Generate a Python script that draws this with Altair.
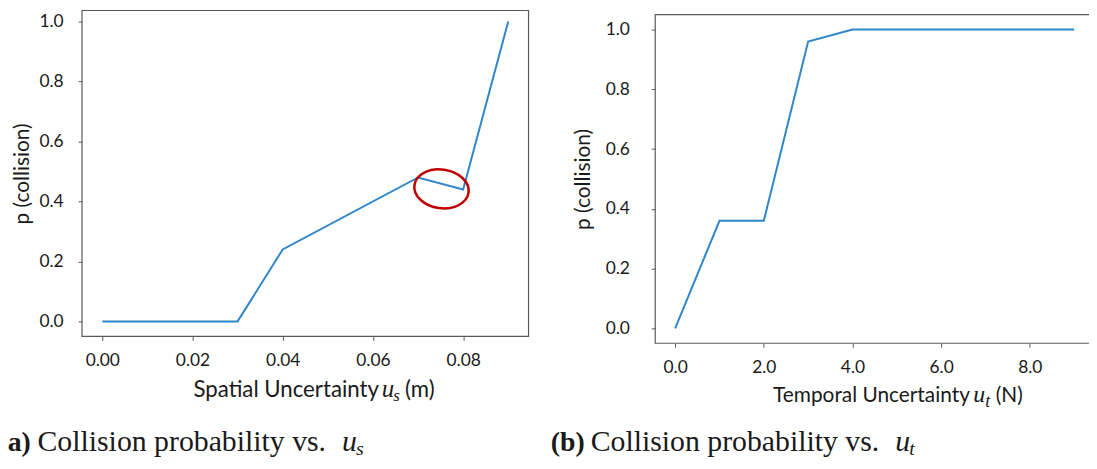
import altair as alt
import pandas as pd

# ---------------- data ----------------
# (a) collision probability vs spatial uncertainty
spatial_u = [0.00, 0.03, 0.04, 0.07, 0.08, 0.09]
spatial_p = [0.00, 0.00, 0.24, 0.48, 0.44, 1.00]
# (b) collision probability vs temporal uncertainty
temporal_u = [0, 1, 2, 3, 4, 5, 6, 7, 8, 9]
temporal_p = [0.00, 0.36, 0.36, 0.96, 1.00, 1.00, 1.00, 1.00, 1.00, 1.00]

spatial_ticks = [0.00, 0.02, 0.04, 0.06, 0.08]
temporal_ticks = [0, 2, 4, 6, 8]
p_ticks = [0.0, 0.2, 0.4, 0.6, 0.8, 1.0]

# highlighted region (red ellipse) centre, in data units of panel (a)
highlight_u = [0.0752]
highlight_p = [0.442]

# ---------------- layout (view pixels) ----------------
W, H = 1089, 461
FONT = "Lato"
SERIF = "Liberation Serif"
INK = "#1a1a1a"
FRAME = "#5a5a5a"
BLUE = "#2f86c8"
RED = "#c00000"

a_xdom, a_xrng = [-0.0045, 0.0945], [74.55, 524.4]
a_ydom, a_yrng = [-0.05, 1.037], [329.1, 0.8]
b_xdom, b_xrng = [-0.45, 9.45], [652.0, 1094.1]
b_ydom, b_yrng = [-0.05, 1.05], [336.05, 4.95]


def axis(orient, values, fmt, offset, label_padding, title=None, title_padding=0):
    kw = dict(orient=orient, values=values, format=fmt, offset=offset,
              labelPadding=label_padding, tickSize=4, tickColor=FRAME, tickWidth=1,
              domain=False, grid=False, labelFont=FONT, labelFontSize=17.5,
              labelColor=INK, labelFlush=False, labelOverlap=False)
    if title:
        kw.update(title=title, titleFont=FONT, titleFontSize=21, titleFontWeight="normal",
                  titleColor=INK, titlePadding=title_padding)
    else:
        kw["title"] = None
    return alt.Axis(**kw)


def txt(s, x, y, size, font=FONT, align="left", style="normal", weight="normal"):
    return alt.Chart(pd.DataFrame({"t": [s]})).mark_text(
        align=align, baseline="alphabetic", font=font, fontSize=size,
        fontStyle=style, fontWeight=weight, color=INK
    ).encode(text="t:N", x=alt.value(x), y=alt.value(y))


def frame(xr, yr):
    return alt.Chart(pd.DataFrame({"f": [0]})).mark_rect(
        fillOpacity=0, stroke=FRAME, strokeWidth=1.2
    ).encode(x=alt.value(xr[0]), x2=alt.value(xr[1]), y=alt.value(yr[1]), y2=alt.value(yr[0]))


# ---------------- panel (a) ----------------
ax_x = alt.X("u:Q", scale=alt.Scale(domain=a_xdom, range=a_xrng, nice=False, zero=False),
             axis=axis("bottom", spatial_ticks, ".2f", a_yrng[0] - H, 11))
ax_y = alt.Y("p:Q", scale=alt.Scale(domain=a_ydom, range=a_yrng, nice=False, zero=False),
             axis=axis("left", p_ticks, ".1f", -a_xrng[0], 15, "p (collision)", 6))

df_a = pd.DataFrame({"u": spatial_u, "p": spatial_p})
line_a = alt.Chart(df_a).mark_line(color=BLUE, strokeWidth=2).encode(x=ax_x, y=ax_y)

ELLIPSE = ("M 1 0 C 1 0.392 0.552 0.71 0 0.71 C -0.552 0.71 -1 0.392 -1 0 "
           "C -1 -0.392 -0.552 -0.71 0 -0.71 C 0.552 -0.71 1 -0.392 1 0 Z")
df_h = pd.DataFrame({"u": highlight_u, "p": highlight_p})
ellipse = alt.Chart(df_h).mark_point(
    shape=ELLIPSE, size=3025, filled=False, color=RED, strokeWidth=2.5, angle=8, opacity=1
).encode(x=ax_x, y=ax_y)

panel_a = alt.layer(
    frame(a_xrng, a_yrng), line_a, ellipse,
    txt("Spatial Uncertainty", 373.7, 390, 22.4, align="right"),
    txt("u", 376.5, 390, 25, font=SERIF, style="italic"),
    txt("s", 388, 394, 17, font=SERIF, style="italic"),
    txt("(m)", 400, 390, 22.4),
)

# ---------------- panel (b) ----------------
bx = alt.X("u:Q", scale=alt.Scale(domain=b_xdom, range=b_xrng, nice=False, zero=False),
           axis=axis("bottom", temporal_ticks, ".1f", b_yrng[0] - H, 11))
by = alt.Y("p:Q", scale=alt.Scale(domain=b_ydom, range=b_yrng, nice=False, zero=False),
           axis=axis("left", p_ticks, ".1f", -b_xrng[0], 22, "p (collision)", 12))

df_b = pd.DataFrame({"u": temporal_u, "p": temporal_p})
line_b = alt.Chart(df_b).mark_line(color=BLUE, strokeWidth=2).encode(x=bx, y=by)

panel_b = alt.layer(
    frame(b_xrng, b_yrng), line_b,
    txt("Temporal Uncertainty", 969, 395, 21, align="right"),
    txt("u", 972.5, 395, 24, font=SERIF, style="italic"),
    txt("t", 984.5, 400, 18, font=SERIF, style="italic"),
    txt("(N)", 995, 395, 21),
)

# ---------------- captions ----------------
captions = [
    txt("(a)", 23, 445, 28, font=SERIF, align="right", weight="bold"),
    txt("Collision probability vs.", 29.7, 445, 30, font=SERIF),
    txt("u", 336.4, 445, 30, font=SERIF, style="italic"),
    txt("s", 350.5, 449, 20, font=SERIF, style="italic"),
    txt("(b)", 581, 445, 28, font=SERIF, align="right", weight="bold"),
    txt("Collision probability vs.", 587, 445, 30, font=SERIF),
    txt("u", 893.7, 445, 30, font=SERIF, style="italic"),
    txt("t", 908, 449, 20, font=SERIF, style="italic"),
]

chart = alt.layer(panel_a, panel_b, *captions).resolve_scale(
    x="independent", y="independent"
).properties(
    width=W, height=H, padding=0, autosize=alt.AutoSizeParams(type="none")
).configure_view(stroke=None)

chart.save("out.html", embed_options={"renderer": "svg", "actions": False})
